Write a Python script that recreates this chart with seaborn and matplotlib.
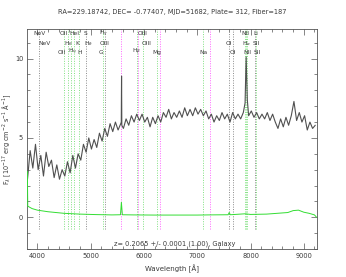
import numpy as np
import pandas as pd
import matplotlib
matplotlib.use("Agg")
import matplotlib.pyplot as plt
import matplotlib.transforms as mtrans
import seaborn as sns
from matplotlib.ticker import MultipleLocator

# ---------------- data ----------------
title = "RA=229.18742, DEC= -0.77407, MJD=51682, Plate= 312, Fiber=187"
z = 0.2065
ztext = "z= 0.2065 +/- 0.0001 (1.00), Galaxy"

wave = [3815, 3865, 3915, 3965, 4015, 4065, 4115, 4165, 4215, 4265,
        4315, 4365, 4415, 4465, 4515, 4565, 4615, 4665, 4715, 4765,
        4815, 4865, 4915, 4965, 5015, 5065, 5115, 5165, 5215, 5265,
        5315, 5365, 5415, 5465, 5515, 5565, 5575, 5580, 5585, 5615,
        5665, 5715, 5765, 5815, 5865, 5915, 5965, 6015, 6065, 6115,
        6165, 6215, 6265, 6315, 6365, 6415, 6465, 6515, 6565, 6615,
        6665, 6715, 6765, 6815, 6865, 6915, 6965, 7015, 7065, 7115,
        7165, 7215, 7265, 7315, 7365, 7415, 7465, 7515, 7565, 7615,
        7665, 7715, 7765, 7815, 7865, 7898, 7918, 7940, 7965, 8015,
        8065, 8115, 8165, 8215, 8265, 8315, 8365, 8415, 8465, 8515,
        8565, 8615, 8665, 8715, 8765, 8815, 8865, 8915, 8965, 9015,
        9065, 9115, 9165, 9215]
flux = [2.4, 4.2, 3.1, 4.6, 3.0, 3.9, 2.6, 4.1, 3.2, 3.6,
        2.5, 3.3, 2.4, 3.0, 2.6, 3.5, 2.8, 3.9, 3.1, 4.0,
        3.6, 4.6, 4.1, 5.0, 4.3, 4.9, 4.4, 5.3, 4.8, 5.6,
        5.1, 5.9, 5.4, 6.0, 5.5, 5.9, 6.0, 8.9, 5.8, 5.6,
        6.2, 5.8, 6.4, 6.0, 6.5, 6.1, 6.5, 6.0, 6.3, 5.7,
        6.3, 5.9, 6.4, 6.0, 6.6, 6.3, 6.8, 6.2, 6.6, 6.3,
        6.7, 6.3, 6.9, 6.4, 6.8, 6.4, 6.9, 6.5, 6.8, 6.4,
        6.7, 6.2, 6.5, 6.0, 6.4, 6.1, 6.6, 6.2, 6.5, 6.0,
        6.6, 6.2, 6.5, 6.2, 6.6, 7.2, 10.1, 7.4, 6.4, 6.7,
        6.3, 6.6, 6.2, 6.5, 6.2, 6.6, 6.1, 6.5, 6.0, 5.6,
        6.2, 5.7, 6.3, 5.8, 6.4, 7.3, 6.1, 6.6, 6.0, 6.4,
        5.5, 6.0, 5.6, 5.8]

err_wave = [3812, 3820, 3900, 4000, 4200, 4500, 4800, 5100, 5400, 5560,
            5577, 5595, 5800, 6200, 6600, 7000, 7200, 7580, 7600, 7620,
            7900, 8000, 8300, 8500, 8700, 8800, 8900, 9000, 9100, 9200, 9240]
err = [2.9, 0.7, 0.55, 0.45, 0.35, 0.25, 0.2, 0.17, 0.15, 0.16,
       0.95, 0.16, 0.15, 0.14, 0.14, 0.14, 0.15, 0.16, 0.3, 0.16,
       0.22, 0.18, 0.2, 0.25, 0.3, 0.42, 0.45, 0.32, 0.25, 0.15, 0.0]

line_rest = [3346, 3426, 3727, 3729, 3798, 3835, 3889, 3934, 3968, 4072,
             4102, 4304, 4340, 4363, 4861, 4959, 5007, 5175, 5894, 6300,
             6363, 6548, 6563, 6583, 6707, 6716, 6731]
line_label = ["NeV", "NeV", "OII", "OII", r"H$_\theta$", r"H$_\eta$", "HeI", "K", "H", "S",
              r"H$_\delta$", "G", r"H$_\gamma$", "OIII", r"H$_\beta$", "OIII", "OIII", "Mg", "Na", "OI",
              "OI", "NII", r"H$_\alpha$", "NII", "Li", "SII", "SII"]
line_row = [0, 1, 0, 2, 1, 2, 0, 1, 2, 0,
            1, 2, 0, 1, 2, 0, 1, 2, 2, 1,
            2, 0, 1, 2, 0, 1, 2]
line_color = ["gray", "none", "green", "none", "green", "green", "green", "none", "green", "gray",
              "none", "none", "green", "gray", "green", "green", "none", "green", "green", "gray",
              "gray", "green", "green", "green", "gray", "green", "none"]
sky_wave = [5577, 5890, 6300, 7246]

row_y = [11.57, 10.94, 10.40]

# ---------------- plot ----------------
sns.set_style("ticks")
plt.rcParams["font.family"] = ["DejaVu Sans"]
txt = "#3a3a3a"

fig = plt.figure(figsize=(3.46, 2.77), dpi=100)
ax = fig.add_axes([0.079, 0.101, 0.838, 0.794])

xmin, xmax = 3812, 9253
ymin, ymax = -2.0, 11.86

col_map = {"gray": "#8a8a8a", "green": "#7fe07f"}
obs = [w * (1 + z) for w in line_rest]
for w, c in zip(obs, line_color):
    if c != "none":
        ax.vlines(w, -0.72, ymax, colors=col_map[c], linestyles=(0, (1, 1.5)), lw=0.7, zorder=1)
ax.vlines(sky_wave, -0.72, ymax, colors="#ff66ff", linestyles=(0, (1, 1.5)), lw=0.7, zorder=1)

df = pd.DataFrame({"wave": wave, "flux": flux})
dfe = pd.DataFrame({"wave": err_wave, "err": err})
sns.lineplot(data=df, x="wave", y="flux", ax=ax, color="#505050", lw=0.8,
             estimator=None, sort=False, zorder=3)
sns.lineplot(data=dfe, x="wave", y="err", ax=ax, color="#33dd33", lw=0.7,
             estimator=None, sort=False, zorder=3)

# small pixel nudges for crowded labels (index -> points)
nudge = {3: -1.4, 5: 1.4}
for i, (w, lab, r) in enumerate(zip(obs, line_label, line_row)):
    tr = ax.transData + mtrans.ScaledTranslation(nudge.get(i, 0) / 72, 0, fig.dpi_scale_trans)
    ax.text(w, row_y[r], lab, ha="center", va="center", fontsize=4.2, color=txt,
            zorder=4, transform=tr)

ax.text(0.508, (-1.66 - ymin) / (ymax - ymin), ztext, transform=ax.transAxes,
        ha="center", va="center", fontsize=4.8, color=txt)

ax.set_xlim(xmin, xmax)
ax.set_ylim(ymin, ymax)
ax.xaxis.set_major_locator(MultipleLocator(1000))
ax.xaxis.set_minor_locator(MultipleLocator(200))
ax.yaxis.set_major_locator(MultipleLocator(5))
ax.yaxis.set_minor_locator(MultipleLocator(1))
ax.tick_params(which="both", direction="in", top=True, right=True,
               colors="#555555", labelcolor=txt, labelsize=4.8, width=0.5, pad=3)
ax.tick_params(which="major", length=4)
ax.tick_params(which="minor", length=2)
for s in ax.spines.values():
    s.set_color("#555555")
    s.set_linewidth(0.6)

ax.set_xlabel("Wavelength [Å]", fontsize=5, color=txt, labelpad=4)
ax.set_ylabel(r"F$_\lambda$ [10$^{-17}$ erg cm$^{-2}$ s$^{-1}$ Å$^{-1}$]", fontsize=4.7, color=txt)
ax.yaxis.set_label_coords(-0.05, 0.5)
fig.text(0.497, 0.955, title, ha="center", va="center", fontsize=4.8, color=txt)

fig.savefig("out.png", dpi=100)
